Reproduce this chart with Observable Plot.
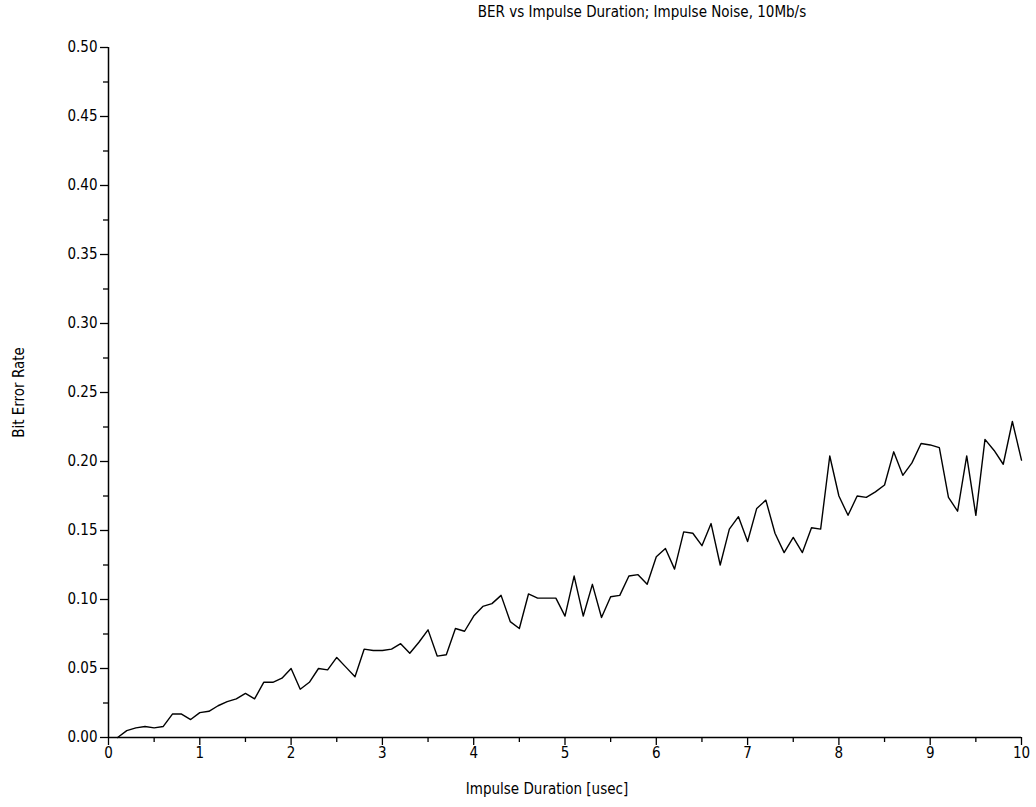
<!DOCTYPE html>
<html>
<head>
<meta charset="utf-8">
<script src="https://cdn.jsdelivr.net/npm/d3@7"></script>
<script src="https://cdn.jsdelivr.net/npm/@observablehq/plot@0.6"></script>
<style>
  body { margin: 0; background: #fff; }
  #title { height: 24px; line-height: 24px; font-family: "DejaVu Sans Condensed", "DejaVu Sans", sans-serif; font-stretch: condensed; font-size: 15px; color: #000; width: 1036px; text-align: center; padding-left: 248px; box-sizing: border-box; }
  svg text { font-stretch: condensed; }
</style>
</head>
<body>
<div id="title">BER vs Impulse Duration; Impulse Noise, 10Mb/s</div>
<div id="chart"></div>
<script>
const title = "BER vs Impulse Duration; Impulse Noise, 10Mb/s";
const xLabel = "Impulse Duration [usec]";
const yLabel = "Bit Error Rate";

const duration = [
  0.1,0.2,0.3,0.4,0.5,0.6,0.7,0.8,0.9,1.0,
  1.1,1.2,1.3,1.4,1.5,1.6,1.7,1.8,1.9,2.0,
  2.1,2.2,2.3,2.4,2.5,2.6,2.7,2.8,2.9,3.0,
  3.1,3.2,3.3,3.4,3.5,3.6,3.7,3.8,3.9,4.0,
  4.1,4.2,4.3,4.4,4.5,4.6,4.7,4.8,4.9,5.0,
  5.1,5.2,5.3,5.4,5.5,5.6,5.7,5.8,5.9,6.0,
  6.1,6.2,6.3,6.4,6.5,6.6,6.7,6.8,6.9,7.0,
  7.1,7.2,7.3,7.4,7.5,7.6,7.7,7.8,7.9,8.0,
  8.1,8.2,8.3,8.4,8.5,8.6,8.7,8.8,8.9,9.0,
  9.1,9.2,9.3,9.4,9.5,9.6,9.7,9.8,9.9,10.0
];
const ber = [
  0.000,0.005,0.007,0.008,0.007,0.008,0.017,0.017,0.013,0.018,
  0.019,0.023,0.026,0.028,0.032,0.028,0.040,0.040,0.043,0.050,
  0.035,0.040,0.050,0.049,0.058,0.051,0.044,0.064,0.063,0.063,
  0.064,0.068,0.061,0.069,0.078,0.059,0.060,0.079,0.077,0.088,
  0.095,0.097,0.103,0.084,0.079,0.104,0.101,0.101,0.101,0.088,
  0.117,0.088,0.111,0.087,0.102,0.103,0.117,0.118,0.111,0.131,
  0.137,0.122,0.149,0.148,0.139,0.155,0.125,0.151,0.160,0.142,
  0.166,0.172,0.148,0.134,0.145,0.134,0.152,0.151,0.204,0.175,
  0.161,0.175,0.174,0.178,0.183,0.207,0.190,0.199,0.213,0.212,
  0.210,0.174,0.164,0.204,0.161,0.216,0.208,0.198,0.229,0.201
];
const xMajorTicks = [0,1,2,3,4,5,6,7,8,9,10];
const xMinorTicks = [0.5,1.5,2.5,3.5,4.5,5.5,6.5,7.5,8.5,9.5];
const yMajorTicks = [0,0.05,0.10,0.15,0.20,0.25,0.30,0.35,0.40,0.45,0.50];
const yMinorTicks = [0.025,0.075,0.125,0.175,0.225,0.275,0.325,0.375,0.425,0.475];

const data = duration.map((d, i) => ({x: d, y: ber[i]}));

const chart = Plot.plot({
  width: 1036,
  height: 783,
  marginLeft: 108,
  marginRight: 15,
  marginTop: 23,
  marginBottom: 70,
  style: {fontFamily: "'DejaVu Sans Condensed', 'DejaVu Sans', sans-serif", fontSize: "15px", color: "#000", background: "#fff"},
  x: {domain: [0, 10]},
  y: {domain: [0, 0.5]},
  marks: [
    Plot.axisX(xMajorTicks, {tickSize: 8, tickPadding: 2, tickFormat: d => String(d), label: null, stroke: "#000", fill: "#000", strokeWidth: 1.3}),
    Plot.axisX(xMinorTicks, {tickSize: 5, tickFormat: () => "", label: null, stroke: "#000", strokeWidth: 1.3}),
    Plot.text([xLabel], {frameAnchor: "bottom", dy: 56, dx: -18, fill: "#000", fontSize: 15}),
    Plot.axisY(yMajorTicks, {tickSize: 8, tickPadding: 3, tickFormat: d3.format(".2f"), label: yLabel, labelAnchor: "center", labelArrow: "none", labelOffset: 95, stroke: "#000", fill: "#000", strokeWidth: 1.3}),
    Plot.axisY(yMinorTicks, {tickSize: 5, tickFormat: () => "", label: null, stroke: "#000", strokeWidth: 1.3}),
    Plot.ruleX([0], {stroke: "#000", strokeWidth: 1.5}),
    Plot.ruleY([0], {stroke: "#000", strokeWidth: 1.5}),
    Plot.lineY(data, {x: "x", y: "y", stroke: "#000", strokeWidth: 1.4})
  ]
});
document.getElementById("chart").appendChild(chart);
</script>
</body>
</html>
